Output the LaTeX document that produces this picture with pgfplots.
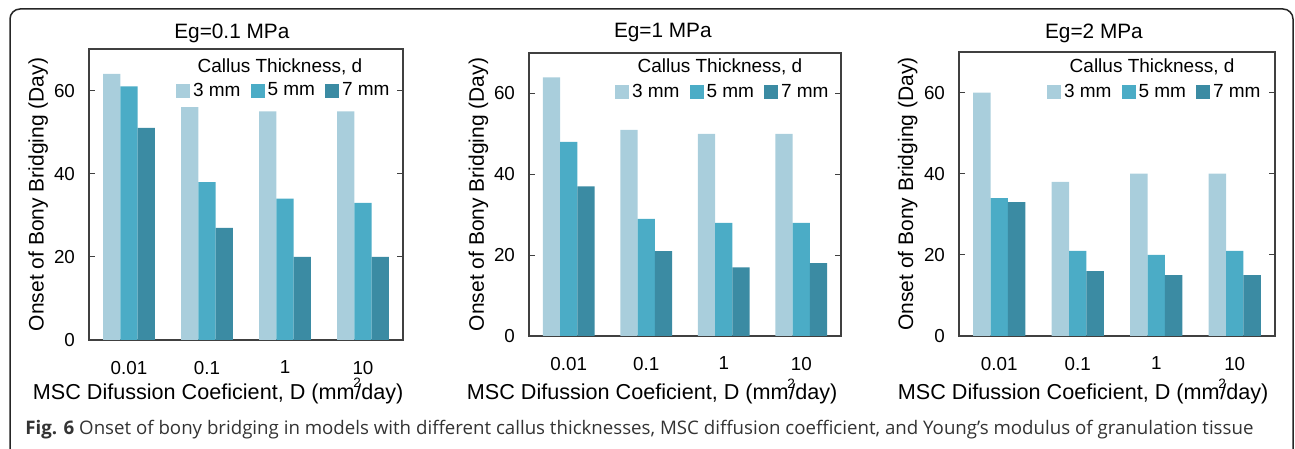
\documentclass[border=0pt]{standalone}
\usepackage{fontspec}
\setmainfont{Liberation Sans}
\newfontfamily\capfont{Open Sans}
\usepackage{pgfplots}
\pgfplotsset{compat=1.18}

\definecolor{cLight}{HTML}{A9CEDC}
\definecolor{cMid}{HTML}{4BACC6}
\definecolor{cDark}{HTML}{3B8BA3}
\definecolor{axgray}{HTML}{404040}

\tikzset{
  ptitle/.style={font=\fontsize{10.4}{12}\selectfont, anchor=center},
  ltitle/.style={font=\fontsize{9.5}{11}\selectfont, anchor=center},
  xfont/.style={font=\fontsize{10.8}{12}\selectfont, inner sep=0pt},
}
% x label, split at the end of "mm" so that the superscript 2 can sit over the slash
\newcommand{\xlabat}[2]{%
  \node[xfont, anchor=base east] at (#1,#2) {MSC Difussion Coeficient, D (mm};
  \node[xfont, anchor=base west] at (#1,#2) {/day)};
  \node[inner sep=0pt, anchor=base west, font=\fontsize{6.8}{8}\selectfont]
    at ([shift={(-1pt,5.8pt)}]#1,#2) {2};
}

\pgfplotsset{
  panel/.style={
    scale only axis,
    anchor=south west,
    clip=false,
    ybar=0pt, bar width=0.222,
    xmin=-0.513, xmax=3.513,
    ymin=0, ymax=70,
    xtick={0,1,2,3}, xticklabels={0.01,0.1,1,10},
    ytick={0,20,40,60},
    major x tick style={draw=none},
    major tick length=3pt,
    tick align=inside,
    axis line style={axgray, line width=0.6pt},
    every tick/.style={axgray, line width=0.6pt},
    /pgf/number format/assume math mode=true,
    tick label style={font=\fontsize{9.4}{11}\selectfont},
    xticklabel style={yshift=-7pt},
    yticklabel style={xshift=-3.5pt},
    ylabel={Onset of Bony Bridging (Day)},
    ylabel style={at={(axis description cs:-0.162,0.5)}, anchor=center, font=\fontsize{10.5}{12}\selectfont},
    legend columns=3,
    legend style={draw=none, fill=none, anchor=east, inner sep=0pt,
      font=\fontsize{9.5}{11}\selectfont,
      nodes={inner sep=1.5pt},
      /tikz/every even column/.append style={column sep=3.5pt},
      /tikz/every odd column/.append style={column sep=0pt}},
    legend image code/.code={\fill[##1] (0pt,-3.5pt) rectangle (7pt,3.5pt);},
  },
}

\begin{document}
\begin{tikzpicture}
\useasboundingbox (0,0) rectangle (647.5pt,224.5pt);
\draw[black!85, line width=0.75pt, rounded corners=5pt] (5pt,-8pt) rectangle (646.5pt,220pt);

% Eg = 0.1 MPa
\begin{axis}[panel, at={(44.5pt,54.5pt)}, width=157pt, height=145.5pt,
  legend style={at={(axis description cs:0.968,0.856)}}]
  \addplot[fill=cLight, draw=none] coordinates {(0,64) (1,56) (2,55) (3,55)};
  \addplot[fill=cMid, draw=none] coordinates {(0,61) (1,38) (2,34) (3,33)};
  \addplot[fill=cDark, draw=none] coordinates {(0,51) (1,27) (2,20) (3,20)};
  \legend{3 mm, 5 mm, 7 mm}
  \node[ltitle] at (axis description cs:0.608,0.938) {Callus Thickness, d};
  \node[ptitle] at (axis description cs:0.455,1.055) {Eg=0.1 MPa};
\end{axis}

% Eg = 1 MPa
\begin{axis}[panel, at={(264.5pt,56.5pt)}, width=156pt, height=141.5pt,
  legend style={at={(axis description cs:0.971,0.862)}}]
  \addplot[fill=cLight, draw=none] coordinates {(0,64) (1,51) (2,50) (3,50)};
  \addplot[fill=cMid, draw=none] coordinates {(0,48) (1,29) (2,28) (3,28)};
  \addplot[fill=cDark, draw=none] coordinates {(0,37) (1,21) (2,17) (3,18)};
  \legend{3 mm, 5 mm, 7 mm}
  \node[ltitle] at (axis description cs:0.612,0.951) {Callus Thickness, d};
  \node[ptitle] at (axis description cs:0.429,1.071) {Eg=1 MPa};
\end{axis}

% Eg = 2 MPa
\begin{axis}[panel, at={(479.5pt,56.5pt)}, width=158pt, height=142pt,
  legend style={at={(axis description cs:0.965,0.859)}}]
  \addplot[fill=cLight, draw=none] coordinates {(0,60) (1,38) (2,40) (3,40)};
  \addplot[fill=cMid, draw=none] coordinates {(0,34) (1,21) (2,20) (3,21)};
  \addplot[fill=cDark, draw=none] coordinates {(0,33) (1,16) (2,15) (3,15)};
  \legend{3 mm, 5 mm, 7 mm}
  \node[ltitle] at (axis description cs:0.611,0.947) {Callus Thickness, d};
  \node[ptitle] at (axis description cs:0.427,1.067) {Eg=2 MPa};
\end{axis}

\xlabat{177.5pt}{24.75pt}
\xlabat{394.5pt}{24.5pt}
\xlabat{610pt}{24.5pt}

\node[anchor=west, inner sep=0pt, text=black!80, font=\capfont\fontsize{9.34}{11}\selectfont]
  at (12.5pt,9.5pt) {\textbf{Fig. 6} Onset of bony bridging in models with different callus thicknesses, MSC diffusion coefficient, and Young’s modulus of granulation tissue};
\end{tikzpicture}
\end{document}
